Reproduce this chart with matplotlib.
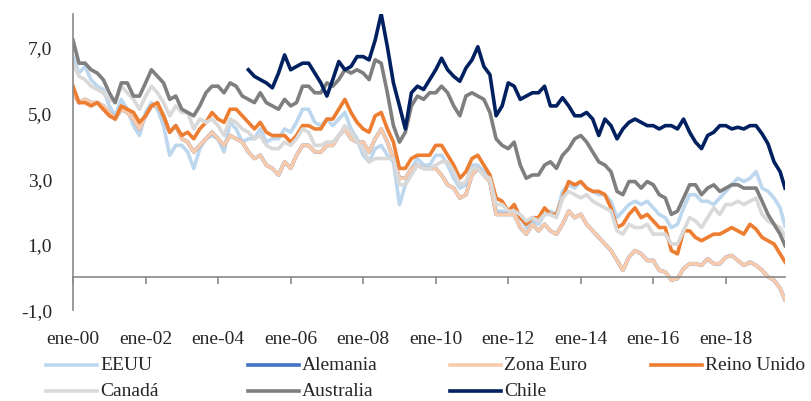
import pandas as pd
import matplotlib
matplotlib.use('Agg')
import matplotlib.pyplot as plt
from matplotlib.lines import Line2D

plt.rcParams['font.family'] = ['Liberation Serif', 'DejaVu Serif']

# observaciones bimestrales (ene, mar, may, jul, sep, nov); la última es el cierre de la muestra
fechas = list(pd.date_range('2000-01-01', '2019-07-01', freq='2MS')) + [pd.Timestamp('2019-08-20')]
fechas_chile = list(pd.date_range('2004-11-01', '2019-07-01', freq='2MS')) + [pd.Timestamp('2019-08-20')]

eeuu = [
    6.7, 6.2, 6.4, 6.0, 5.8, 5.7,
    5.2, 4.9, 5.4, 5.1, 4.6, 4.3,
    5.0, 5.3, 5.1, 4.6, 3.7, 4.0,
    4.0, 3.8, 3.3, 3.9, 4.2, 4.3,
    4.2, 3.8, 4.7, 4.5, 4.1, 4.2,
    4.2, 4.5, 4.1, 4.2, 4.2, 4.5,
    4.4, 4.7, 5.1, 5.1, 4.7, 4.6,
    4.8, 4.6, 4.8, 5.0, 4.5, 4.2,
    3.7, 3.5, 3.9, 4.0, 3.7, 3.5,
    2.2, 2.8, 3.3, 3.6, 3.4, 3.4,
    3.7, 3.7, 3.4, 3.0, 2.7, 2.8,
    3.4, 3.4, 3.2, 3.0, 2.0, 2.0,
    1.9, 2.2, 1.8, 1.5, 1.7, 1.6,
    1.9, 2.0, 1.9, 2.6, 2.8, 2.7,
    2.9, 2.7, 2.6, 2.5, 2.5, 2.3,
    1.8, 2.0, 2.2, 2.3, 2.2, 2.3,
    2.1, 1.9, 1.8, 1.5, 1.6, 2.1,
    2.5, 2.5, 2.3, 2.3, 2.2, 2.4,
    2.6, 2.8, 3.0, 2.9, 3.0, 3.2,
    2.7, 2.6, 2.4, 2.1, 1.55,
]

zona_euro = [
    5.6, 5.3, 5.4, 5.3, 5.3, 5.2,
    5.0, 4.8, 5.1, 5.0, 4.8, 4.5,
    4.9, 5.2, 5.2, 4.9, 4.4, 4.6,
    4.2, 4.1, 3.8, 4.0, 4.2, 4.4,
    4.2, 4.0, 4.3, 4.2, 4.1, 3.8,
    3.6, 3.7, 3.4, 3.3, 3.1, 3.5,
    3.3, 3.7, 4.0, 4.0, 3.8, 3.8,
    4.0, 4.0, 4.3, 4.5, 4.2, 4.1,
    4.1, 3.8, 4.2, 4.5, 4.1, 3.6,
    3.0, 3.0, 3.3, 3.4, 3.3, 3.3,
    3.3, 3.1, 2.8, 2.7, 2.4, 2.5,
    3.1, 3.3, 3.1, 2.9, 1.9, 1.9,
    1.9, 1.9, 1.5, 1.3, 1.6, 1.4,
    1.6, 1.4, 1.3, 1.6, 2.0, 1.8,
    1.9, 1.6, 1.4, 1.2, 1.0, 0.8,
    0.5, 0.2, 0.6, 0.8, 0.7, 0.5,
    0.5, 0.2, 0.15, -0.1, -0.05, 0.25,
    0.4, 0.4, 0.35, 0.55, 0.4, 0.4,
    0.6, 0.65, 0.5, 0.35, 0.45, 0.35,
    0.2, 0.0, -0.1, -0.35, -0.7,
]

# Alemania coincide con la serie de la zona euro y queda por debajo
alemania = list(zona_euro)

reino_unido = [
    5.8, 5.3, 5.3, 5.2, 5.3, 5.1,
    4.9, 4.8, 5.2, 5.1, 5.0, 4.7,
    4.9, 5.2, 5.3, 4.9, 4.4, 4.6,
    4.3, 4.4, 4.2, 4.5, 4.7, 5.0,
    4.8, 4.7, 5.1, 5.1, 4.9, 4.7,
    4.5, 4.7, 4.4, 4.3, 4.3, 4.3,
    4.1, 4.3, 4.6, 4.6, 4.5, 4.5,
    4.8, 4.8, 5.1, 5.4, 5.0, 4.7,
    4.5, 4.4, 4.9, 5.0, 4.5, 4.1,
    3.3, 3.3, 3.6, 3.7, 3.7, 3.7,
    4.0, 4.0, 3.7, 3.4, 3.0, 3.2,
    3.6, 3.7, 3.4, 3.1, 2.4, 2.3,
    2.0, 2.2, 1.8, 1.6, 1.8, 1.8,
    2.1, 1.9, 1.9, 2.4, 2.9, 2.8,
    2.9, 2.7, 2.6, 2.6, 2.5, 2.1,
    1.5, 1.6, 1.9, 2.1, 1.8, 1.9,
    1.7, 1.5, 1.5, 0.8, 0.7, 1.4,
    1.4, 1.2, 1.1, 1.2, 1.3, 1.3,
    1.4, 1.5, 1.4, 1.3, 1.6, 1.45,
    1.2, 1.1, 1.0, 0.7, 0.45,
]

canada = [
    6.5, 6.1, 6.0, 5.8, 5.7, 5.6,
    5.4, 5.3, 5.8, 5.6, 5.4, 5.1,
    5.5, 5.8, 5.6, 5.3, 4.9, 5.2,
    5.0, 5.0, 4.5, 4.8, 4.7, 4.8,
    4.6, 4.3, 4.8, 4.7, 4.5, 4.4,
    4.2, 4.3, 4.0, 3.9, 3.9, 4.1,
    4.0, 4.2, 4.5, 4.4, 4.0, 4.0,
    4.1, 4.1, 4.3, 4.6, 4.4, 4.1,
    3.9, 3.5, 3.6, 3.6, 3.6, 3.6,
    2.8, 2.8, 3.1, 3.4, 3.3, 3.3,
    3.4, 3.5, 3.5, 3.2, 2.8, 2.9,
    3.3, 3.3, 3.1, 3.0, 2.2, 2.2,
    2.0, 2.0, 1.9, 1.7, 1.8, 1.7,
    1.9, 1.9, 1.8, 2.4, 2.6, 2.5,
    2.4, 2.5, 2.3, 2.2, 2.1, 2.0,
    1.4, 1.3, 1.6, 1.5, 1.5, 1.6,
    1.3, 1.3, 1.3, 1.0, 1.0, 1.4,
    1.8, 1.7, 1.5, 1.8, 2.1, 1.9,
    2.2, 2.2, 2.3, 2.2, 2.3, 2.4,
    1.9, 1.7, 1.6, 1.5, 1.25,
]

australia = [
    7.2, 6.5, 6.5, 6.3, 6.2, 6.0,
    5.6, 5.3, 5.9, 5.9, 5.5, 5.5,
    5.9, 6.3, 6.1, 5.9, 5.4, 5.5,
    5.1, 5.0, 4.9, 5.2, 5.6, 5.8,
    5.8, 5.6, 5.9, 5.8, 5.5, 5.4,
    5.3, 5.6, 5.3, 5.2, 5.1, 5.4,
    5.2, 5.3, 5.8, 5.8, 5.6, 5.6,
    5.9, 5.8, 6.0, 6.3, 6.2, 6.3,
    6.2, 6.0, 6.6, 6.5, 5.6, 4.6,
    4.1, 4.4, 5.2, 5.5, 5.4, 5.6,
    5.6, 5.8, 5.6, 5.2, 4.9, 5.5,
    5.6, 5.5, 5.4, 5.0, 4.2, 4.0,
    3.9, 4.1, 3.4, 3.0, 3.1, 3.1,
    3.4, 3.5, 3.3, 3.7, 3.9, 4.2,
    4.3, 4.1, 3.8, 3.5, 3.4, 3.2,
    2.6, 2.5, 2.9, 2.9, 2.7, 2.9,
    2.8, 2.5, 2.4, 1.9, 2.0, 2.4,
    2.8, 2.8, 2.5, 2.7, 2.8, 2.6,
    2.7, 2.8, 2.8, 2.7, 2.7, 2.7,
    2.3, 1.9, 1.6, 1.3, 0.95,
]

chile = [
    6.3,
    6.1, 6.0, 5.9, 5.75, 6.2, 6.75,
    6.3, 6.4, 6.5, 6.5, 6.2, 5.9,
    5.5, 6.0, 6.55, 6.3, 6.4, 6.7,
    6.7, 6.6, 7.2, 8.0, 7.0, 5.9,
    5.2, 4.5, 5.6, 5.8, 5.7, 6.0,
    6.3, 6.65, 6.3, 6.1, 5.95, 6.35,
    6.6, 7.0, 6.4, 6.15, 4.9, 5.2,
    5.9, 5.8, 5.4, 5.5, 5.6, 5.6,
    5.8, 5.2, 5.2, 5.45, 5.2, 4.9,
    4.9, 5.0, 4.8, 4.3, 4.8, 4.6,
    4.2, 4.5, 4.7, 4.8, 4.7, 4.6,
    4.6, 4.5, 4.6, 4.6, 4.5, 4.8,
    4.4, 4.1, 3.9, 4.3, 4.4, 4.6,
    4.6, 4.5, 4.55, 4.5, 4.6, 4.6,
    4.35, 4.05, 3.5, 3.2, 2.7,
]

series = [
    ('EEUU', fechas, eeuu, '#BDD7EE'),
    ('Alemania', fechas, alemania, '#4472C4'),
    ('Zona Euro', fechas, zona_euro, '#F8CBAD'),
    ('Reino Unido', fechas, reino_unido, '#ED7D31'),
    ('Canadá', fechas, canada, '#D9D9D9'),
    ('Australia', fechas, australia, '#7F7F7F'),
    ('Chile', fechas_chile, chile, '#002060'),
]

anios_ticks = [2000, 2002, 2004, 2006, 2008, 2010, 2012, 2014, 2016, 2018]
y_ticks = [-1, 1, 3, 5, 7]

texto = '#262626'
eje = '#898989'
fs = 14

fig = plt.figure(figsize=(8.11, 4.02), dpi=100)
ax = fig.add_axes([0.090, 0.227, 0.878, 0.736])

for nombre, x, y, color in series:
    ax.plot(x, y, color=color, lw=2.6, solid_joinstyle='round')

ax.set_xlim(pd.Timestamp('2000-01-01'), pd.Timestamp('2019-08-20'))
ax.set_ylim(-1, 8)

ax.set_yticks(y_ticks)
ax.set_yticklabels([f'{v:.1f}'.replace('.', ',') for v in y_ticks])
ax.set_xticks([pd.Timestamp(f'{a}-01-01') for a in anios_ticks])
ax.set_xticklabels([f'ene-{a % 100:02d}' for a in anios_ticks])

ax.spines['top'].set_visible(False)
ax.spines['right'].set_visible(False)
ax.spines['bottom'].set_position(('data', 0))
for s in ('left', 'bottom'):
    ax.spines[s].set_color(eje)
    ax.spines[s].set_linewidth(1.2)

ax.tick_params(axis='y', length=0, pad=15, labelsize=fs, labelcolor=texto)
ax.tick_params(axis='x', direction='out', length=5, width=1.2, color=eje,
               pad=33, labelsize=fs, labelcolor=texto)

# leyenda en dos filas, columnas de ancho fijo
filas = [366, 392]
cols = [46, 248, 450, 651]
for i, (nombre, x, y, color) in enumerate(series):
    fila, col = divmod(i, 4)
    yf = 1 - filas[fila] / 402
    x0 = cols[col] / 811
    x1 = (cols[col] + 51) / 811
    fig.add_artist(Line2D([x0, x1], [yf, yf], color=color, lw=2.6,
                          transform=fig.transFigure))
    fig.text(x1 + 3 / 811, yf, nombre, fontsize=fs, color=texto,
             va='center', ha='left')

fig.savefig('out.png', dpi=100)
